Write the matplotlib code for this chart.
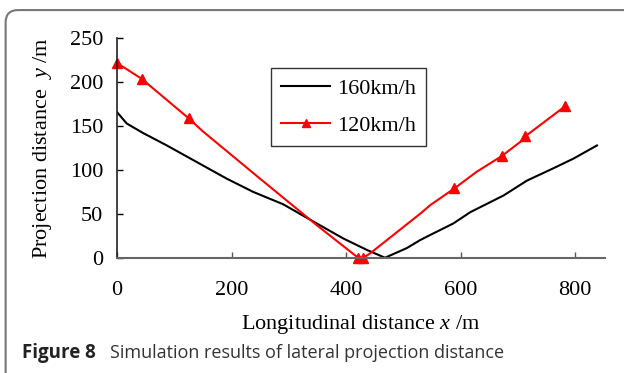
import numpy as np
import matplotlib.pyplot as plt
from matplotlib.patches import FancyBboxPatch

# 160 km/h curve
x160 = [0, 17, 46, 87, 145, 192, 238, 290, 349, 395, 436, 468,
        506, 529, 547, 587, 617, 675, 716, 762, 797, 838]
y160 = [166, 153, 142, 128, 107, 90, 75, 61, 39, 22, 9, 0,
        11, 20, 26, 39, 52, 71, 88, 102, 113, 128]

# 120 km/h curve
x120 = [0, 43, 125, 150, 250, 349, 421, 430, 442, 529, 547, 589, 628, 672, 704, 713, 783]
y120 = [222, 204, 159, 144, 90, 37, 0, 0, 5, 50, 60, 79, 98, 116, 132, 138.5, 173]
# markers only on these points
mark120 = [0, 1, 2, 6, 7, 11, 13, 15, 16]

xticks = [0, 200, 400, 600, 800]
yticks = [0, 50, 100, 150, 200, 250]

plt.rcParams['font.family'] = ['Liberation Serif', 'DejaVu Serif']
plt.rcParams['mathtext.fontset'] = 'custom'
plt.rcParams['mathtext.it'] = 'Liberation Serif:italic'
plt.rcParams['mathtext.rm'] = 'Liberation Serif'

fig = plt.figure(figsize=(6.24, 3.73), dpi=100)
ax = fig.add_axes([0.1875, 0.309, 0.782, 0.588])

ax.plot(x160, y160, color='black', lw=1.5, label='160km/h')
ax.plot(x120, y120, color='red', lw=1.5, marker='^', markersize=7,
        markevery=mark120, label='120km/h', clip_on=False)

ax.set_xlim(0, 852)
ax.set_ylim(0, 250)
ax.set_xticks(xticks)
ax.set_yticks(yticks)
ax.tick_params(direction='in', labelsize=16, length=4, width=1)
ax.tick_params(axis='x', pad=17, colors='#555555', labelcolor='black')
ax.tick_params(axis='y', pad=10)
for s in ['top', 'right']:
    ax.spines[s].set_visible(False)
ax.spines['bottom'].set_color('#666666')
ax.spines['bottom'].set_linewidth(1.5)
ax.spines['left'].set_color('#222222')
ax.spines['left'].set_linewidth(1.2)

ax.set_xlabel('Longitudinal distance $x$ /m', fontsize=16, labelpad=9)
ax.set_ylabel('Projection distance  $y$ /m', fontsize=16, labelpad=11)

leg = ax.legend(loc='upper left', bbox_to_anchor=(0.316, 0.865), fontsize=16,
                frameon=True, fancybox=False, edgecolor='black',
                handlelength=2.2, handletextpad=0.3, borderpad=0.45,
                labelspacing=0.75, borderaxespad=0, markerscale=0.85)
leg.get_frame().set_linewidth(1.0)

# caption
fig.text(0.035, 0.054, 'Figure 8', fontsize=13.5, fontweight='bold',
         family='Open Sans', color='#222222', va='center')
fig.text(0.176, 0.054, 'Simulation results of lateral projection distance',
         fontsize=13, family='Open Sans', color='#333333', va='center')

# border around the figure
border = FancyBboxPatch((0.009, -0.2), 1.2, 1.173,
                        boxstyle='round,pad=0,rounding_size=0.02',
                        transform=fig.transFigure, fill=False,
                        edgecolor='#777777', lw=1.5, mutation_aspect=1.67)
fig.patches.append(border)

fig.savefig('out.png', dpi=100)
